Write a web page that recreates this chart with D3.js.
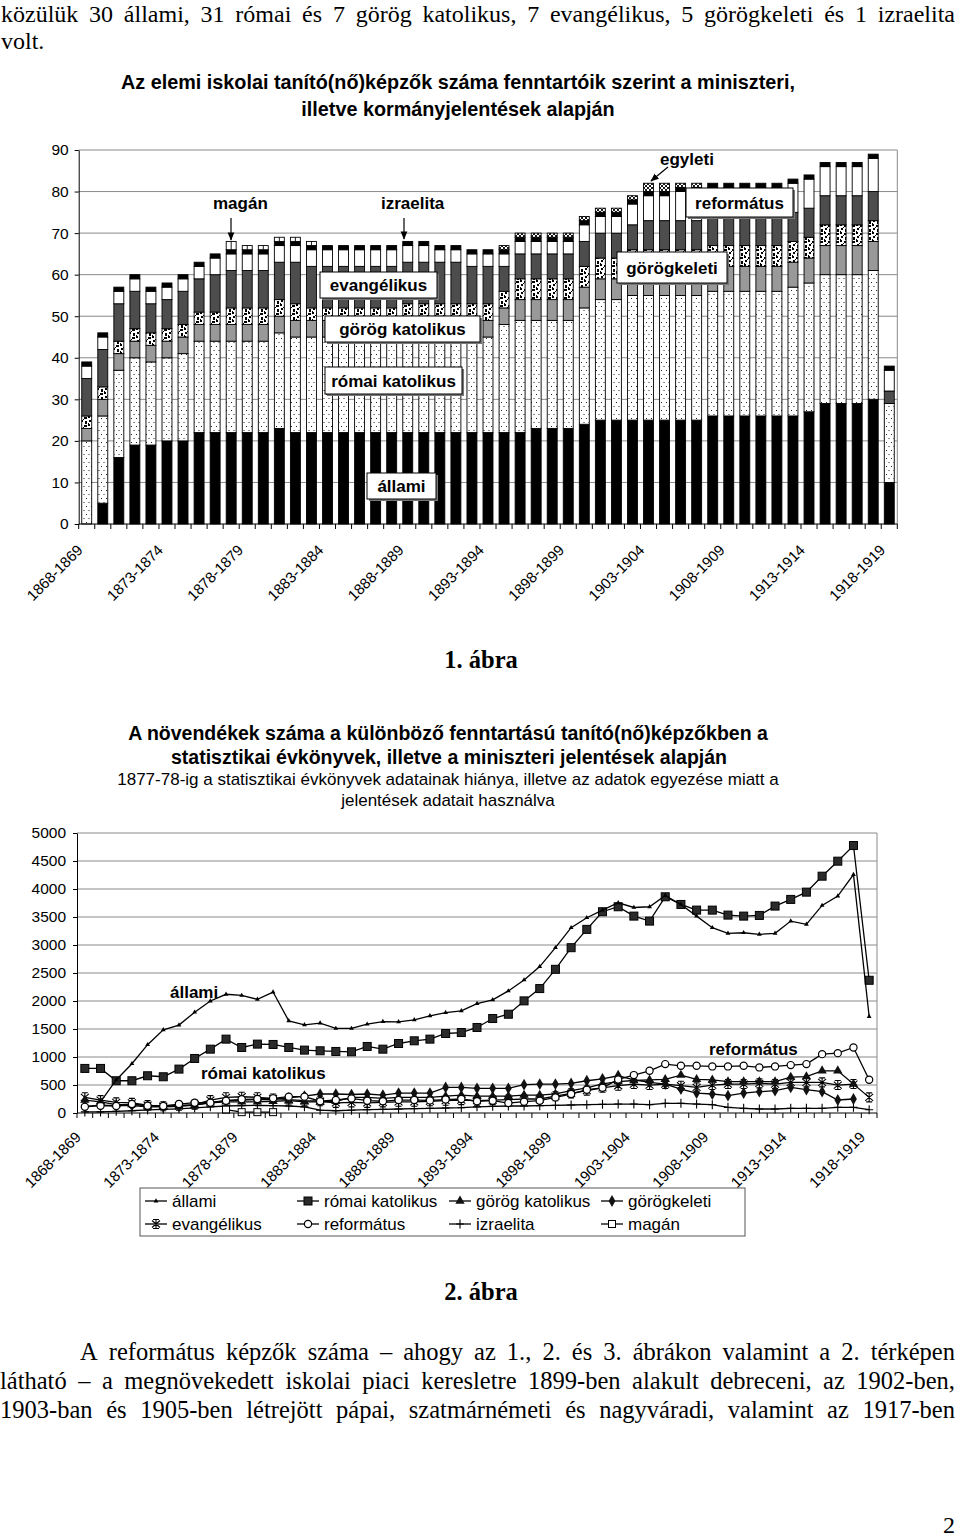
<!DOCTYPE html>
<html><head><meta charset="utf-8">
<script src="https://cdn.jsdelivr.net/npm/d3@7"></script>
<style>body{margin:0;background:#fff}svg{display:block}</style>
</head><body>
<svg id="c" width="960" height="1537"></svg>
<script>
// ---------- DATA ----------
const periods = ["1868-1869","1869-1870","1870-1871","1871-1872","1872-1873","1873-1874","1874-1875","1875-1876","1876-1877","1877-1878",
"1878-1879","1879-1880","1880-1881","1881-1882","1882-1883","1883-1884","1884-1885","1885-1886","1886-1887","1887-1888",
"1888-1889","1889-1890","1890-1891","1891-1892","1892-1893","1893-1894","1894-1895","1895-1896","1896-1897","1897-1898",
"1898-1899","1899-1900","1900-1901","1901-1902","1902-1903","1903-1904","1904-1905","1905-1906","1906-1907","1907-1908",
"1908-1909","1909-1910","1910-1911","1911-1912","1912-1913","1913-1914","1914-1915","1915-1916","1916-1917","1917-1918","1918-1919"];
const tickLabels = ["1868-1869","1873-1874","1878-1879","1883-1884","1888-1889","1893-1894","1898-1899","1903-1904","1908-1909","1913-1914","1918-1919"];
const yTicksTop = [0,10,20,30,40,50,60,70,80,90];
const yTicksBottom = [0,500,1000,1500,2000,2500,3000,3500,4000,4500,5000];

// Chart 1: number of schools
const allamiS   = [0,5,16,19,19,20,20,22,22,22,22,22,23,22,22,22,22,22,22,22,22,22,22,22,22,22,22,22,23,23,23,24,25,25,25,25,25,25,25,26,26,26,26,26,26,27,29,29,29,30,10];
const romaiS    = [20,21,21,21,20,20,21,22,22,22,22,22,23,23,23,23,23,23,23,23,23,23,23,23,23,23,26,27,26,26,26,28,29,29,30,30,30,30,30,30,30,30,30,30,31,31,31,31,31,31,19];
const gorogKatS = [3,4,4,4,4,4,4,4,4,4,4,4,4,4,4,4,4,4,4,4,5,5,5,5,5,4,4,5,5,5,5,5,5,5,5,5,5,5,5,6,6,6,6,6,6,6,7,7,7,7,0];
const gorogkelS = [3,3,3,3,3,3,3,3,3,4,4,4,4,4,3,3,3,3,3,3,3,3,3,3,3,4,4,5,5,5,5,5,5,5,6,6,6,6,6,5,5,5,5,5,5,5,5,5,5,5,0];
const evangS    = [9,9,9,9,7,7,8,8,9,9,9,9,9,10,10,10,10,10,10,10,10,10,10,10,9,9,6,6,6,6,6,6,6,6,6,7,7,7,7,7,7,7,7,7,7,7,7,7,7,7,3];
const reformS   = [3,3,3,3,3,3,3,3,4,4,4,4,4,4,4,4,4,4,4,4,4,4,3,3,3,3,3,3,3,3,3,4,4,4,5,6,6,7,7,7,7,7,7,7,7,7,7,7,7,8,5];
const izraelS   = [1,1,1,1,1,1,1,1,1,1,1,1,1,1,1,1,1,1,1,1,1,1,1,1,1,1,1,1,1,1,1,1,1,1,1,1,1,1,1,1,1,1,1,1,1,1,1,1,1,1,1];
const maganS    = [0,0,0,0,0,0,0,0,0,2,1,1,1,1,1,0,0,0,0,0,0,0,0,0,0,0,0,0,0,0,0,0,0,0,0,0,0,0,0,0,0,0,0,0,0,0,0,0,0,0,0];
const egyletiS  = [0,0,0,0,0,0,0,0,0,0,0,0,0,0,0,0,0,0,0,0,0,0,0,0,0,0,1,1,1,1,1,1,1,1,1,2,2,1,1,0,0,0,0,0,0,0,0,0,0,0,0];

// Chart 2: number of students
const allamiN = [null,200,590,880,1220,1485,1570,1800,2000,2120,2100,2030,2160,1645,1575,1605,1510,1510,1586,1633,1628,1663,1734,1794,1824,1954,2020,2180,2376,2614,2952,3309,3487,3623,3754,3670,3683,3885,3724,3516,3309,3208,3219,3190,3208,3427,3368,3707,3873,4259,1723];
const romaiN  = [796,796,576,576,665,647,784,974,1140,1319,1170,1230,1224,1170,1123,1111,1099,1093,1188,1140,1241,1289,1319,1420,1437,1527,1687,1764,2002,2222,2566,2952,3279,3594,3683,3516,3427,3861,3724,3623,3623,3534,3516,3528,3695,3814,3944,4229,4497,4776,2370];
const gorogKatN = [230,200,150,150,130,120,130,140,180,200,200,200,210,220,200,200,210,280,280,260,280,280,280,300,320,300,300,300,320,320,340,400,450,520,560,580,590,600,677,600,590,560,560,560,560,640,650,754,754,517,null];
const gorogkelN = [120,140,130,130,110,110,120,140,190,220,230,240,240,270,303,339,339,330,339,321,356,356,356,457,457,440,440,440,505,517,517,529,576,610,665,590,546,517,428,356,339,309,356,380,398,457,416,380,232,250,null];
const evangN  = [280,230,190,180,140,120,130,150,230,280,290,280,260,240,220,210,180,190,180,190,200,200,210,220,230,220,230,240,250,250,300,350,400,450,487,517,499,517,487,457,499,517,517,529,517,546,546,546,499,517,279];
const reformN = [110,130,125,160,130,125,160,184,184,220,244,250,262,292,292,210,232,260,220,210,230,230,225,240,250,210,220,178,202,220,279,339,416,450,600,677,754,873,843,843,832,832,843,814,832,855,873,1051,1069,1170,594];
const izraelN = [20,20,30,40,55,65,75,90,110,125,130,135,130,125,110,50,40,50,59,65,71,77,83,89,95,110,119,125,125,131,137,143,148,155,160,160,148,172,172,160,148,101,83,71,71,83,83,83,101,101,59];
const maganN  = [null,null,null,null,null,null,null,null,null,60,15,15,15,null,null,null,null,null,null,null,null,null,null,null,null,null,null,null,null,null,null,null,null,null,null,null,null,null,null,null,null,null,null,null,null,null,null,null,null,null,null];

// ---------- SETUP ----------
const SANS = "'Liberation Sans', Arial, sans-serif";
const SERIF = "'Liberation Serif', 'Times New Roman', serif";
const svg = d3.select("#c");
const defs = svg.append("defs");

const pDots = defs.append("pattern").attr("id","dots").attr("patternUnits","userSpaceOnUse").attr("width",5).attr("height",8);
pDots.append("rect").attr("width",5).attr("height",8).attr("fill","#fff");
pDots.append("rect").attr("x",1).attr("y",2).attr("width",1).attr("height",1).attr("fill","#222");
pDots.append("rect").attr("x",3.5).attr("y",6).attr("width",1).attr("height",1).attr("fill","#222");

const pConf = defs.append("pattern").attr("id","confetti").attr("patternUnits","userSpaceOnUse").attr("width",8).attr("height",8);
pConf.append("rect").attr("width",8).attr("height",8).attr("fill","#fff");
[[0,0,2,2],[4,1,3,2],[1,4,2,2],[5,5,2,3],[3,3,1,1],[0,7,1,1]].forEach(r =>
  pConf.append("rect").attr("x",r[0]).attr("y",r[1]).attr("width",r[2]).attr("height",r[3]).attr("fill","#000"));

const pCross = defs.append("pattern").attr("id","cross").attr("patternUnits","userSpaceOnUse").attr("width",4).attr("height",4);
pCross.append("rect").attr("width",4).attr("height",4).attr("fill","#fff");
pCross.append("path").attr("d","M0,0L4,4M4,0L0,4").attr("stroke","#000").attr("stroke-width",0.9);

defs.append("marker").attr("id","arr").attr("viewBox","0 0 10 10").attr("refX",9).attr("refY",5)
  .attr("markerWidth",7).attr("markerHeight",7).attr("orient","auto-start-reverse")
  .append("path").attr("d","M0,1L10,5L0,9z").attr("fill","#000");

function justifyLine(words, x0, x1, y, size) {
  const g = svg.append("g").attr("font-family", SERIF).attr("font-size", size).attr("fill","#000");
  const els = words.map(w => g.append("text").attr("y", y).text(w));
  const widths = els.map(e => e.node().getComputedTextLength());
  const total = d3.sum(widths);
  const gap = words.length > 1 ? (x1 - x0 - total) / (words.length - 1) : 0;
  let x = x0;
  els.forEach((e,i) => { e.attr("x", x); x += widths[i] + gap; });
}
function centerText(t, x, y, size, weight, family) {
  svg.append("text").attr("x",x).attr("y",y).attr("text-anchor","middle")
    .attr("font-family", family || SANS).attr("font-size",size).attr("font-weight",weight||"normal").text(t);
}
function boxLabel(t, x, y, w, h) {
  svg.append("rect").attr("x",x+2).attr("y",y+2).attr("width",w).attr("height",h).attr("fill","#777");
  svg.append("rect").attr("x",x).attr("y",y).attr("width",w).attr("height",h).attr("fill","#fff").attr("stroke","#000").attr("stroke-width",1);
  svg.append("text").attr("x",x+w/2).attr("y",y+h/2+6).attr("text-anchor","middle")
    .attr("font-family",SANS).attr("font-size",17).attr("font-weight","bold").text(t);
}

// ---------- PAGE TEXT ----------
justifyLine("közülük 30 állami, 31 római és 7 görög katolikus, 7 evangélikus, 5 görögkeleti és 1 izraelita".split(" "), 1, 955, 22, 24);
svg.append("text").attr("x",1).attr("y",49).attr("font-family",SERIF).attr("font-size",24).text("volt.");

// ---------- CHART 1 ----------
centerText("Az elemi iskolai tanító(nő)képzők száma fenntartóik szerint a miniszteri,", 458, 89, 19.8, "bold");
centerText("illetve kormányjelentések alapján", 458, 116, 19.8, "bold");

const x1 = d3.scaleBand().domain(periods).range([78.7, 897.3]).paddingInner(0.38).paddingOuter(0.19);
const y1 = d3.scaleLinear().domain([0,90]).range([524,150]);

const g1 = svg.append("g");
g1.selectAll("line.grid").data(yTicksTop.filter(d=>d>0)).join("line")
  .attr("x1",78.7).attr("x2",897.3).attr("y1",d=>y1(d)).attr("y2",d=>y1(d))
  .attr("stroke","#8a8a8a").attr("stroke-width",1);
g1.append("line").attr("x1",897.3).attr("x2",897.3).attr("y1",150).attr("y2",524).attr("stroke","#8a8a8a");

const schoolKeys = ["állami","római katolikus","görög katolikus","görögkeleti","evangélikus","református","izraelita","magán","egyleti"];
const schoolArrays = [allamiS, romaiS, gorogKatS, gorogkelS, evangS, reformS, izraelS, maganS, egyletiS];
const schoolFill = {"állami":"#000","római katolikus":"url(#dots)","görög katolikus":"#999","görögkeleti":"url(#confetti)",
  "evangélikus":"#4d4d4d","református":"#fff","izraelita":"#000","magán":"#fff","egyleti":"url(#cross)"};
const rows = periods.map((p,i) => { const r = {period:p}; schoolKeys.forEach((k,j)=> r[k] = schoolArrays[j][i]); return r; });
const stack = d3.stack().keys(schoolKeys)(rows);

stack.forEach(layer => {
  const key = layer.key;
  layer.forEach(d => {
    const h = y1(d[0]) - y1(d[1]);
    if (h <= 0) return;
    const xx = x1(d.data.period);
    g1.append("rect").attr("x",xx).attr("y",y1(d[1])).attr("width",x1.bandwidth()).attr("height",h)
      .attr("fill",schoolFill[key]).attr("stroke","#000").attr("stroke-width",0.9);
    if (key === "magán") {
      g1.append("line").attr("x1",xx+x1.bandwidth()/2).attr("x2",xx+x1.bandwidth()/2)
        .attr("y1",y1(d[1])).attr("y2",y1(d[0])).attr("stroke","#000").attr("stroke-width",0.9);
    }
  });
});

const ay1 = d3.axisLeft(y1).tickValues(yTicksTop).tickSize(4).tickSizeOuter(0).tickPadding(6);
const gy1 = svg.append("g").attr("transform","translate(78.7,0)").call(ay1);
gy1.selectAll("text").attr("font-family",SANS).attr("font-size",15.5).attr("fill","#000");
gy1.selectAll("line,path").attr("stroke","#000");
const step1 = x1.step();
svg.append("line").attr("x1",78.7).attr("x2",897.3).attr("y1",524).attr("y2",524).attr("stroke","#000");
periods.concat([null]).forEach((p,i) => {
  const xx = 78.7 + i*step1;
  svg.append("line").attr("x1",xx).attr("x2",xx).attr("y1",524).attr("y2",529).attr("stroke","#000");
});
tickLabels.forEach(t => {
  const xc = x1(t) + x1.bandwidth()/2;
  svg.append("text").attr("transform",`translate(${xc-3},551) rotate(-45)`).attr("text-anchor","end")
    .attr("font-family",SANS).attr("font-size",15).text(t);
});

const ann = (t,x,y) => svg.append("text").attr("x",x).attr("y",y).attr("font-family",SANS).attr("font-size",17).attr("font-weight","bold").text(t);
ann("magán",213,209); ann("izraelita",381,209); ann("egyleti",660,165);
svg.append("line").attr("x1",231).attr("x2",231).attr("y1",218).attr("y2",240).attr("stroke","#000").attr("stroke-width",1.2).attr("marker-end","url(#arr)");
svg.append("line").attr("x1",404).attr("x2",404).attr("y1",218).attr("y2",239).attr("stroke","#000").attr("stroke-width",1.2).attr("marker-end","url(#arr)");
svg.append("line").attr("x1",668).attr("x2",651).attr("y1",167).attr("y2",181).attr("stroke","#000").attr("stroke-width",1.2).attr("marker-end","url(#arr)");
boxLabel("református",686,188,107,29);
boxLabel("görögkeleti",617,252,110,31);
boxLabel("evangélikus",320,272,117,26);
boxLabel("görög katolikus",325,316,155,26);
boxLabel("római katolikus",325,367,137,27);
boxLabel("állami",367,473,69,26);

centerText("1. ábra", 481, 668, 24.5, "bold", SERIF);

// ---------- CHART 2 ----------
centerText("A növendékek száma a különböző fenntartású tanító(nő)képzőkben a", 448, 740, 19.5, "bold");
centerText("statisztikai évkönyvek, illetve a miniszteri jelentések alapján", 449, 764, 19.5, "bold");
centerText("1877-78-ig a statisztikai évkönyvek adatainak hiánya, illetve az adatok egyezése miatt a", 448, 785, 17, "normal");
centerText("jelentések adatait használva", 448, 806, 17, "normal");

const x2 = d3.scaleBand().domain(periods).range([77, 877]);
const y2 = d3.scaleLinear().domain([0,5000]).range([1113,833]);
const cx = p => x2(p) + x2.bandwidth()/2;

const g2 = svg.append("g");
g2.selectAll("line.grid").data(yTicksBottom.filter(d=>d>0)).join("line")
  .attr("x1",77).attr("x2",877).attr("y1",d=>y2(d)).attr("y2",d=>y2(d)).attr("stroke","#8a8a8a");
g2.append("line").attr("x1",877).attr("x2",877).attr("y1",833).attr("y2",1113).attr("stroke","#8a8a8a");

const ay2 = d3.axisLeft(y2).tickValues(yTicksBottom).tickFormat(d3.format("d")).tickSize(4).tickSizeOuter(0).tickPadding(7);
const gy2 = svg.append("g").attr("transform","translate(77,0)").call(ay2);
gy2.selectAll("text").attr("font-family",SANS).attr("font-size",15.5).attr("fill","#000");
gy2.selectAll("line,path").attr("stroke","#000");
svg.append("line").attr("x1",77).attr("x2",877).attr("y1",1113).attr("y2",1113).attr("stroke","#000");
const step2 = x2.step();
periods.concat([null]).forEach((p,i) => {
  const xx = 77 + i*step2;
  svg.append("line").attr("x1",xx).attr("x2",xx).attr("y1",1113).attr("y2",1118).attr("stroke","#000");
});
tickLabels.forEach(t => {
  svg.append("text").attr("transform",`translate(${cx(t)-3},1138) rotate(-45)`).attr("text-anchor","end")
    .attr("font-family",SANS).attr("font-size",15).text(t);
});

function mk(g, type, x, y) {
  switch(type) {
    case "tri-small": g.append("path").attr("transform",`translate(${x},${y})`).attr("d",d3.symbol(d3.symbolTriangle,10)()).attr("fill","#000"); break;
    case "square": g.append("rect").attr("x",x-4).attr("y",y-4).attr("width",8).attr("height",8).attr("fill","#2a2a2a").attr("stroke","#000").attr("stroke-width",1); break;
    case "triangle": g.append("path").attr("transform",`translate(${x},${y})`).attr("d",d3.symbol(d3.symbolTriangle,38)()).attr("fill","#111"); break;
    case "diamond": g.append("path").attr("transform",`translate(${x},${y})`).attr("d",d3.symbol(d3.symbolDiamond,40)()).attr("fill","#111"); break;
    case "star": g.append("path").attr("d",`M${x},${y-4.5}L${x},${y+4.5}M${x-4},${y-3.5}L${x+4},${y+3.5}M${x+4},${y-3.5}L${x-4},${y+3.5}M${x-3},${y-4.5}L${x+3},${y-4.5}M${x-3},${y+4.5}L${x+3},${y+4.5}`).attr("stroke","#000").attr("stroke-width",1.1).attr("fill","none"); break;
    case "circle": g.append("circle").attr("cx",x).attr("cy",y).attr("r",3.6).attr("fill","#fff").attr("stroke","#000").attr("stroke-width",1.2); break;
    case "plus": g.append("path").attr("d",`M${x},${y-4.5}L${x},${y+4.5}M${x-4},${y}L${x+4},${y}`).attr("stroke","#000").attr("stroke-width",1.1); break;
    case "opensq": g.append("rect").attr("x",x-3.5).attr("y",y-3.5).attr("width",7).attr("height",7).attr("fill","#fff").attr("stroke","#000").attr("stroke-width",1); break;
  }
}

const seriesDefs = [
  {name:"izraelita", vals:izraelN, m:"plus"},
  {name:"magán", vals:maganN, m:"opensq"},
  {name:"evangélikus", vals:evangN, m:"star"},
  {name:"görög katolikus", vals:gorogKatN, m:"triangle"},
  {name:"görögkeleti", vals:gorogkelN, m:"diamond"},
  {name:"református", vals:reformN, m:"circle"},
  {name:"római katolikus", vals:romaiN, m:"square"},
  {name:"állami", vals:allamiN, m:"tri-small"}
];
const line = d3.line().defined(d => d.v != null).x(d => cx(d.p)).y(d => y2(d.v));
seriesDefs.forEach(s => {
  const pts = periods.map((p,i) => ({p, v:s.vals[i]}));
  const g = g2.append("g");
  g.append("path").datum(pts).attr("d",line).attr("fill","none").attr("stroke","#000").attr("stroke-width",1.3);
  pts.filter(d => d.v != null).forEach(d => mk(g, s.m, cx(d.p), y2(d.v)));
});

ann("állami",170,998); ann("római katolikus",201,1079); ann("református",709,1055);

svg.append("rect").attr("x",140).attr("y",1188).attr("width",605).attr("height",48).attr("fill","#fff").attr("stroke","#555");
const legendItems = [
  {t:"állami",m:"tri-small",x:145,y:1201},{t:"római katolikus",m:"square",x:297,y:1201},
  {t:"görög katolikus",m:"triangle",x:449,y:1201},{t:"görögkeleti",m:"diamond",x:601,y:1201},
  {t:"evangélikus",m:"star",x:145,y:1224},{t:"református",m:"circle",x:297,y:1224},
  {t:"izraelita",m:"plus",x:449,y:1224},{t:"magán",m:"opensq",x:601,y:1224}];
legendItems.forEach(it => {
  const g = svg.append("g");
  g.append("line").attr("x1",it.x).attr("x2",it.x+22).attr("y1",it.y).attr("y2",it.y).attr("stroke","#000").attr("stroke-width",1.3);
  mk(g, it.m, it.x+11, it.y);
  g.append("text").attr("x",it.x+27).attr("y",it.y+6).attr("font-family",SANS).attr("font-size",17).text(it.t);
});

centerText("2. ábra", 481, 1300, 24.5, "bold", SERIF);

// ---------- PARAGRAPH ----------
justifyLine("A református képzők száma – ahogy az 1., 2. és 3. ábrákon valamint a 2. térképen".split(" "), 80, 955, 1360, 24.5);
justifyLine("látható – a megnövekedett iskolai piaci keresletre 1899-ben alakult debreceni, az 1902-ben,".split(" "), 0, 955, 1389, 24.5);
justifyLine("1903-ban és 1905-ben létrejött pápai, szatmárnémeti és nagyváradi, valamint az 1917-ben".split(" "), 0, 955, 1418, 24.5);
svg.append("text").attr("x",955).attr("y",1533).attr("text-anchor","end").attr("font-family",SERIF).attr("font-size",24).text("2");
</script>
</body></html>
